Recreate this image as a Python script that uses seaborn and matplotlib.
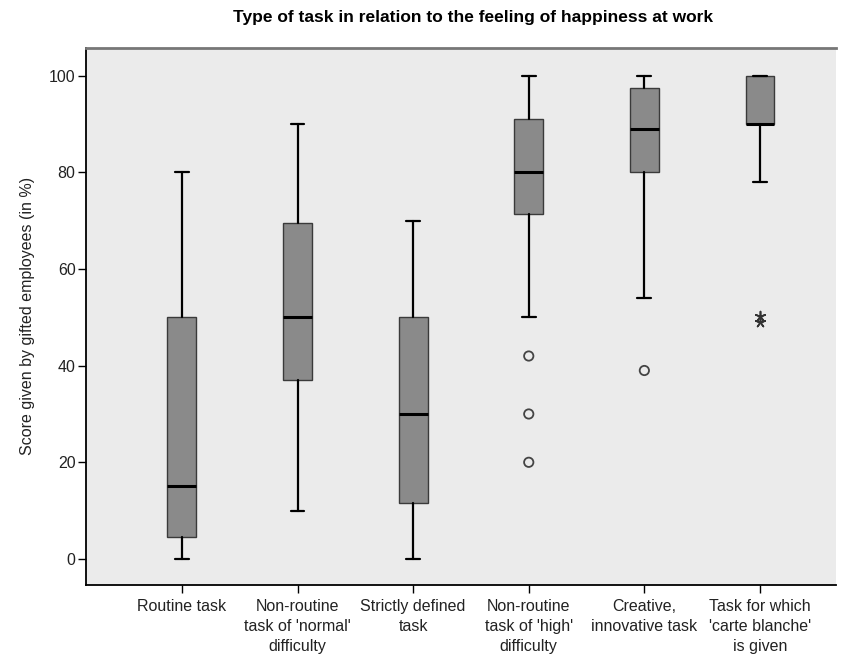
import matplotlib
matplotlib.use("Agg")
import matplotlib.pyplot as plt
import seaborn as sns
import pandas as pd

categories = [
    "Routine task",
    "Non-routine\ntask of 'normal'\ndifficulty",
    "Strictly defined\ntask",
    "Non-routine\ntask of 'high'\ndifficulty",
    "Creative,\ninnovative task",
    "Task for which\n'carte blanche'\nis given",
]
whisker_low = [0, 10, 0, 50, 54, 78]
q1 = [4.5, 37, 11.5, 71.5, 80, 90]
median = [15, 50, 30, 80, 89, 90]
q3 = [50, 69.5, 50, 91, 97.5, 100]
whisker_high = [80, 90, 70, 100, 100, 100]

# outliers (circles) and extreme values (stars)
outlier_cat = [3, 3, 3, 4]
outlier_val = [42, 30, 20, 39]
extreme_cat = [5, 5]
extreme_val = [50.3, 49.1]

sns.set_theme(style="white")
plt.rcParams["font.family"] = ["Liberation Sans Narrow", "Liberation Sans", "DejaVu Sans"]

fig = plt.figure(figsize=(8.43, 6.64), dpi=100)
ax = fig.add_axes([0.102, 0.119, 0.890, 0.809])
ax.set_facecolor("#ebebeb")

stats = []
for i in range(len(categories)):
    stats.append(dict(whislo=whisker_low[i], q1=q1[i], med=median[i],
                      q3=q3[i], whishi=whisker_high[i], fliers=[]))

ax.bxp(stats, positions=range(len(categories)), widths=0.25,
       capwidths=0.12, patch_artist=True, showfliers=False,
       boxprops=dict(facecolor="#8a8a8a", edgecolor="#3a3a3a", linewidth=1.0),
       medianprops=dict(color="black", linewidth=2.2),
       whiskerprops=dict(color="black", linewidth=1.6),
       capprops=dict(color="black", linewidth=1.6))

out_df = pd.DataFrame({"x": outlier_cat, "y": outlier_val})
ext_df = pd.DataFrame({"x": extreme_cat, "y": extreme_val})
sns.scatterplot(data=out_df, x="x", y="y", ax=ax, marker="o", s=45,
                facecolor="none", edgecolor="#444444", linewidth=1.3, zorder=5)
sns.scatterplot(data=ext_df, x="x", y="y", ax=ax, marker=(5, 2, 0), s=50,
                color="#333333", linewidth=1.2, zorder=5)

ax.set_xlim(-0.83, 5.66)
ax.set_ylim(-5.4, 105.8)
ax.set_yticks([0, 20, 40, 60, 80, 100])
ax.set_xticks(range(len(categories)))
ax.set_xticklabels(categories, fontsize=11.5, color="#222222", linespacing=1.42)
ax.tick_params(axis="y", labelsize=11.5, labelcolor="#222222", length=6,
               width=1, direction="out", left=True, color="black", pad=1.5)
ax.tick_params(axis="x", length=6, width=1, direction="out", bottom=True,
               color="black", pad=4)
ax.set_xlabel("")
ax.set_ylabel("Score given by gifted employees (in %)", fontsize=11.5,
              color="#222222", labelpad=10)

for side in ["left", "bottom"]:
    ax.spines[side].set_color("black")
    ax.spines[side].set_linewidth(1.3)
ax.spines["top"].set_color("#777777")
ax.spines["top"].set_linewidth(2.0)
ax.spines["right"].set_visible(False)

fig.suptitle("Type of task in relation to the feeling of happiness at work",
             fontsize=12.5, fontweight="bold", x=0.561, y=0.985, color="black")

fig.savefig("out.png", dpi=100)
